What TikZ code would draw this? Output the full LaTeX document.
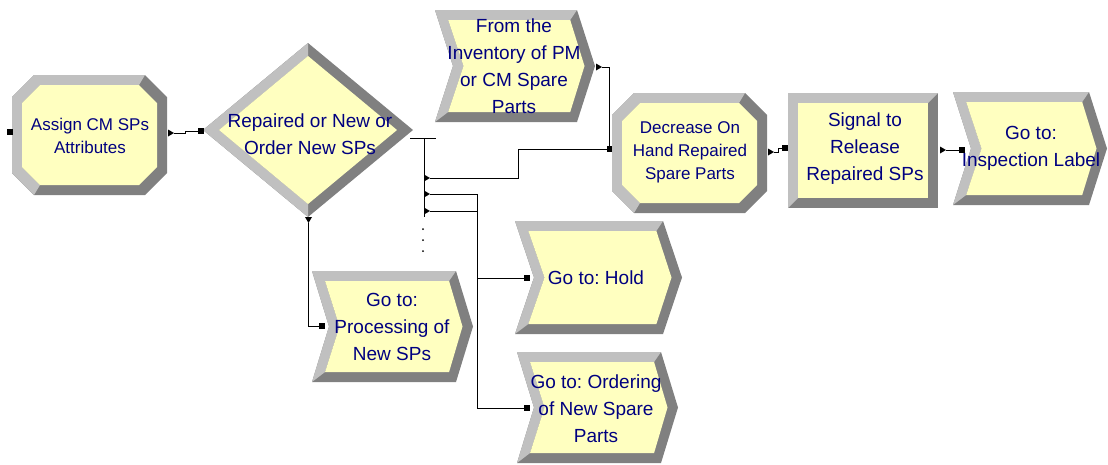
\documentclass[tikz,border=0pt]{standalone}
\usepackage{fontspec}
\setmainfont{Liberation Sans}
\usetikzlibrary{calc}
\frenchspacing

\definecolor{modfill}{RGB}{255,255,192}
\definecolor{bevlight}{RGB}{192,192,192}
\definecolor{bevdark}{RGB}{128,128,128}
\definecolor{modtext}{RGB}{0,0,128}

\tikzset{
  modlabel/.style={text=modtext, align=center, inner sep=0pt,
    font=\fontsize{19}{27}\selectfont},
  modlabelsmall/.style={modlabel, font=\fontsize{17}{23}\selectfont},
  link/.style={draw=black, line width=0.9pt},
}

% bevelled octagon module: name, x1, y1, x2, y2
\newcommand\octmod[5]{%
  \coordinate (#1-o1) at ({#2+22},#3);
  \coordinate (#1-o2) at ({#4-22},#3);
  \coordinate (#1-o3) at (#4,{#3+22});
  \coordinate (#1-o4) at (#4,{#5-22});
  \coordinate (#1-o5) at ({#4-22},#5);
  \coordinate (#1-o6) at ({#2+22},#5);
  \coordinate (#1-o7) at (#2,{#5-22});
  \coordinate (#1-o8) at (#2,{#3+22});
  \coordinate (#1-i1) at ({#2+28},{#3+10});
  \coordinate (#1-i2) at ({#4-28},{#3+10});
  \coordinate (#1-i3) at ({#4-10},{#3+28});
  \coordinate (#1-i4) at ({#4-10},{#5-28});
  \coordinate (#1-i5) at ({#4-28},{#5-10});
  \coordinate (#1-i6) at ({#2+28},{#5-10});
  \coordinate (#1-i7) at ({#2+10},{#5-28});
  \coordinate (#1-i8) at ({#2+10},{#3+28});
  \fill[bevdark] (#1-o1) -- (#1-o2) -- (#1-o3) -- (#1-o4) -- (#1-o5)
    -- (#1-o6) -- (#1-o7) -- (#1-o8) -- cycle;
  \fill[bevlight] (#1-o6) -- (#1-o7) -- (#1-o8) -- (#1-o1) -- (#1-o2)
    -- (#1-i2) -- (#1-i1) -- (#1-i8) -- (#1-i7) -- (#1-i6) -- cycle;
  \fill[modfill] (#1-i1) -- (#1-i2) -- (#1-i3) -- (#1-i4) -- (#1-i5)
    -- (#1-i6) -- (#1-i7) -- (#1-i8) -- cycle;
}

% bevelled rectangle module: name, x1, y1, x2, y2
\newcommand\rectmod[5]{%
  \fill[bevdark] (#2,#3) rectangle (#4,#5);
  \fill[bevlight] (#2,#5) -- (#2,#3) -- (#4,#3) -- ({#4-10},{#3+10})
    -- ({#2+10},{#3+10}) -- ({#2+10},{#5-10}) -- cycle;
  \fill[modfill] ({#2+10},{#3+10}) rectangle ({#4-10},{#5-10});
}

% bevelled chevron module: name, x1, y1, x2, y2, depth
\newcommand\chevmod[6]{%
  \coordinate (#1-tl) at (#2,#3);
  \coordinate (#1-tr) at (#4,#3);
  \coordinate (#1-tip) at ({#4+#6},{(#3+#5)/2});
  \coordinate (#1-br) at (#4,#5);
  \coordinate (#1-bl) at (#2,#5);
  \coordinate (#1-n) at ({#2+#6},{(#3+#5)/2});
  \coordinate (#1-itl) at ({#2+10+#6*20/(#5-#3)},{#3+10});
  \coordinate (#1-itr) at ({#4-10+#6*20/(#5-#3)},{#3+10});
  \coordinate (#1-itip) at ({#4+#6-10.5},{(#3+#5)/2});
  \coordinate (#1-ibr) at ({#4-10+#6*20/(#5-#3)},{#5-10});
  \coordinate (#1-ibl) at ({#2+10+#6*20/(#5-#3)},{#5-10});
  \coordinate (#1-in) at ({#2+#6+10.5},{(#3+#5)/2});
  \fill[bevdark] (#1-tl) -- (#1-tr) -- (#1-tip) -- (#1-br) -- (#1-bl)
    -- (#1-n) -- cycle;
  \fill[bevlight] (#1-bl) -- (#1-n) -- (#1-tl) -- (#1-tr) -- (#1-itr)
    -- (#1-itl) -- (#1-in) -- (#1-ibl) -- cycle;
  \fill[modfill] (#1-itl) -- (#1-itr) -- (#1-itip) -- (#1-ibr)
    -- (#1-ibl) -- (#1-in) -- cycle;
}

% entry port (square) and exit port (triangle pointing right)
\newcommand\modport[3]{%
  \coordinate (#1) at (#2,#3);
  \fill ({#2-2.6},{#3-2.6}) rectangle ({#2+2.6},{#3+2.6});
}
\newcommand\modexit[3]{%
  \coordinate (#1) at ({#2+6},#3);
  \fill (#2,{#3-3.5}) -- ({#2+6},#3) -- (#2,{#3+3.5}) -- cycle;
}

\begin{document}
\begin{tikzpicture}[x=1pt,y=-1pt]
\useasboundingbox (0,0) rectangle (1108,464);

% ---------- modules ----------
\octmod{assign}{12}{75}{167}{195}
\node[modlabelsmall] (assign) at (90,136) {Assign CM SPs\\Attributes};

% decide diamond
\coordinate (dT) at (308,43);
\coordinate (dR) at (413,130);
\coordinate (dB) at (308,217);
\coordinate (dL) at (203,130);
\coordinate (diT) at (308,56);
\coordinate (diR) at (397,130);
\coordinate (diB) at (308,204);
\coordinate (diL) at (219,130);
\fill[bevdark] (dT) -- (dR) -- (dB) -- (dL) -- cycle;
\fill[bevlight] (dT) -- (dL) -- (dB) -- (diB) -- (diL) -- (diT) -- cycle;
\fill[modfill] (diT) -- (diR) -- (diB) -- (diL) -- cycle;
\node[modlabel] (decide) at (310,134) {Repaired or New or\\Order New SPs};

\chevmod{inv}{435}{10}{577}{122}{18}
\node[modlabel] (inv) at (514,66) {From the\\Inventory of PM\\or CM Spare\\Parts};

\octmod{dec}{612}{93}{767}{213}
\node[modlabelsmall] (dec) at (690,152) {Decrease On\\Hand Repaired\\Spare Parts};

\rectmod{sig}{788}{93}{938}{208}
\node[modlabel] (sig) at (865,149) {Signal to\\Release\\Repaired SPs};

\chevmod{insp}{953}{92}{1089}{205}{18}
\node[modlabel] (insp) at (1031,148.5) {Go to:\\Inspection Label};

\chevmod{proc}{312}{271}{456}{382}{17}
\node[modlabel] (proc) at (392,327) {Go to:\\Processing of\\New SPs};

\chevmod{hold}{515}{221}{663}{334}{19}
\node[modlabel] (hold) at (596,278) {Go to: Hold};

\chevmod{order}{517}{352}{661}{463}{17}
\node[modlabel] (order) at (596,409) {Go to: Ordering\\of New Spare\\Parts};

% ---------- ports ----------
\modport{assign-in}{10}{132}
\modexit{assign-out}{168}{133}
\modport{decide-in}{201}{131}
\modport{dec-in}{609.5}{149}
\modexit{dec-out}{768}{152}
\modport{sig-in}{785}{148}
\modexit{sig-out}{940}{150}
\modport{insp-in}{962}{150}
\modexit{inv-out}{596}{67}
\modport{proc-in}{322}{326}
\modport{hold-in}{527}{278}
\modport{order-in}{527}{408}

% decide: bottom exit (pointing down)
\coordinate (decide-down) at (308.5,223);
\fill (305,217) -- (308.5,223) -- (312,217) -- cycle;

% decide: branch bar with three exits
\coordinate (bar-l) at (410,138);
\coordinate (bar-r) at (436,138);
\coordinate (bar-top) at (424,138);
\coordinate (bar-bot) at (424,217);
\draw[link] (bar-l) -- (bar-r);
\draw[link] (bar-top) -- (bar-bot);
\modexit{decide-r1}{424}{178}
\modexit{decide-r2}{424}{194}
\modexit{decide-r3}{424}{211}
\foreach \yy in {229,240,251} \fill (423,\yy) circle (1);

% ---------- connectors ----------
\draw[link] (assign-out) -- ++(11,0) -- ++(0,-2) -- (decide-in);
\draw[link] (decide-r1) -- ++(88,0) |- (dec-in);
\draw[link] (decide-r2) -- ++(47,0) |- (hold-in);
\draw[link] (decide-r3) -- ++(47,0) |- (order-in);
\draw[link] (decide-down) |- (proc-in);
\draw[link] (inv-out) -| (dec-in);
\draw[link] (dec-out) -- ++(4,0) -- ++(0,-4) -- (sig-in);
\draw[link] (sig-out) -- (insp-in);
\end{tikzpicture}
\end{document}
